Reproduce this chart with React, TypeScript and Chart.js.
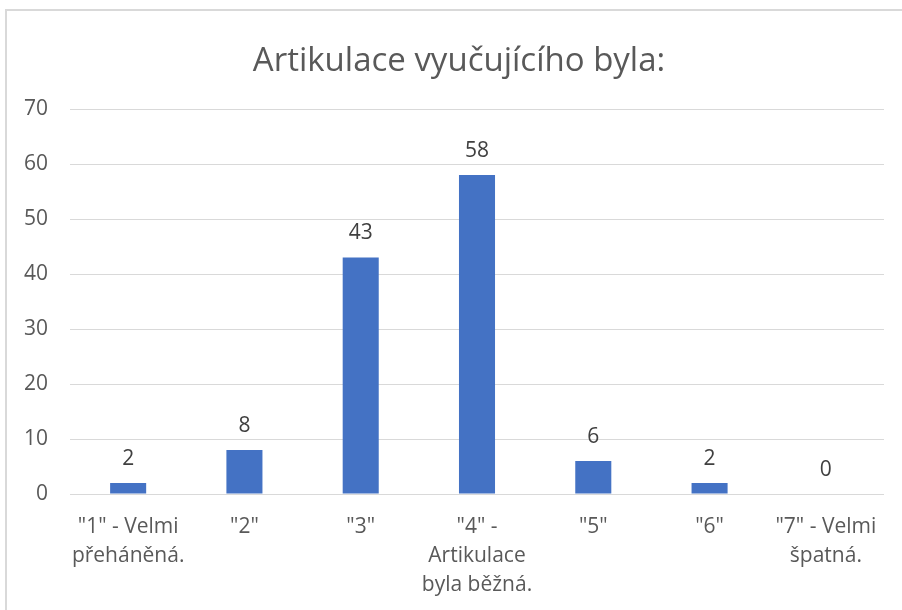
import React, { useEffect, useRef } from "react";
import { Chart, registerables } from "chart.js";

Chart.register(...registerables);

const TITLE = "Artikulace vyučujícího byla:";
const CATEGORIES: string[][] = [
  ['"1" - Velmi', "přeháněná."],
  ['"2"'],
  ['"3"'],
  ['"4" -', "Artikulace", "byla běžná."],
  ['"5"'],
  ['"6"'],
  ['"7" - Velmi', "špatná."],
];
const VALUES: number[] = [2, 8, 43, 58, 6, 2, 0];
const Y_MIN = 0;
const Y_MAX = 70;
const Y_STEP = 10;

const FONT = "'Open Sans', sans-serif";

const titleAndLabels = {
  id: "titleAndLabels",
  afterDraw(chart: any) {
    const ctx = chart.ctx;
    ctx.save();
    ctx.fillStyle = "#595959";
    ctx.font = `33px ${FONT}`;
    ctx.textAlign = "center";
    ctx.textBaseline = "middle";
    ctx.fillText(TITLE, 459, 62);
    ctx.restore();
  },
  afterDatasetsDraw(chart: any) {
    const ctx = chart.ctx;
    const meta = chart.getDatasetMeta(0);
    const ds = chart.data.datasets[0];
    ctx.save();
    ctx.fillStyle = "#404040";
    ctx.font = `21px ${FONT}`;
    ctx.textAlign = "center";
    ctx.textBaseline = "middle";
    meta.data.forEach((bar: any, i: number) => {
      ctx.fillText(String(ds.data[i]), bar.x, bar.y - 24);
    });
    ctx.restore();
  },
};

export default function App() {
  const ref = useRef<HTMLCanvasElement | null>(null);
  useEffect(() => {
    if (!ref.current) return;
    const chart = new Chart(ref.current, {
      type: "bar",
      data: {
        labels: CATEGORIES,
        datasets: [
          {
            data: VALUES,
            backgroundColor: "#4472C4",
            borderWidth: 0,
            barPercentage: 0.62,
            categoryPercentage: 0.5,
          },
        ],
      },
      options: {
        responsive: false,
        animation: false,
        layout: { padding: { left: 0, right: 18, top: 109, bottom: 0 } },
        plugins: {
          legend: { display: false },
          tooltip: { enabled: false },
          title: { display: false },
        },
        scales: {
          x: {
            grid: { display: false, drawTicks: false },
            border: { display: false },
            ticks: {
              color: "#595959",
              font: { family: FONT, size: 21, lineHeight: 1.38 },
              padding: 19,
              maxRotation: 0,
              autoSkip: false,
            },
            afterFit: (s: any) => {
              s.height = 116;
            },
          },
          y: {
            min: Y_MIN,
            max: Y_MAX,
            grid: { color: "#d9d9d9", lineWidth: 1, drawTicks: false },
            border: { display: false },
            ticks: {
              stepSize: Y_STEP,
              color: "#595959",
              font: { family: FONT, size: 21 },
              padding: 22,
              crossAlign: "near",
            },
            afterFit: (s: any) => {
              s.width = 70;
            },
          },
        },
      },
      plugins: [titleAndLabels],
    });
    return () => chart.destroy();
  }, []);

  return (
    <div
      style={{
        position: "fixed",
        left: 0,
        top: 0,
        width: 902,
        height: 610,
        overflow: "hidden",
        background: "#ffffff",
      }}
    >
      <div
        style={{
          position: "absolute",
          left: 5,
          top: 9,
          width: 1000,
          height: 1000,
          border: "2px solid #d9d9d9",
        }}
      />
      <canvas
        ref={ref}
        width={902}
        height={610}
        style={{ position: "absolute", left: 0, top: 0 }}
      />
    </div>
  );
}
